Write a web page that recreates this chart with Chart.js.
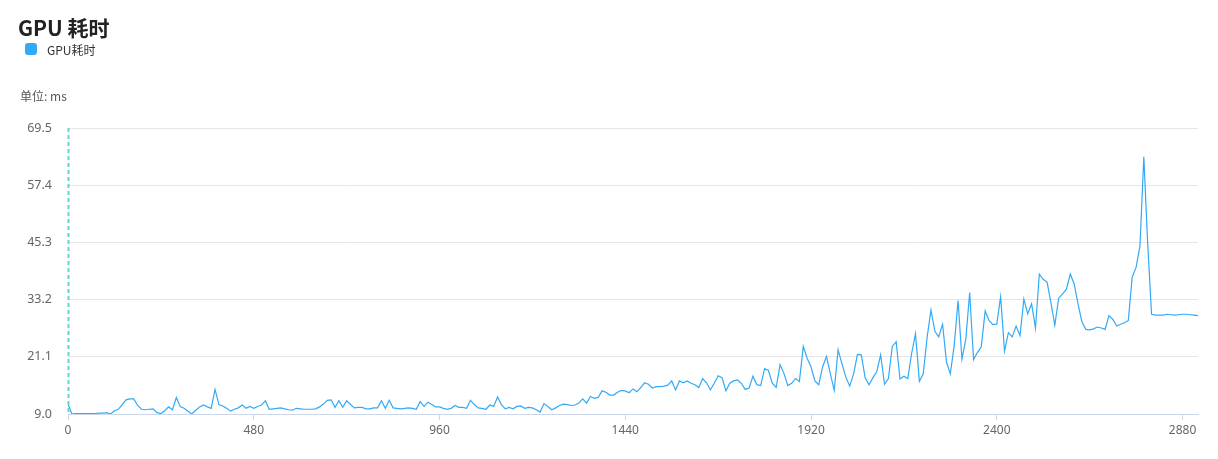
<!DOCTYPE html>
<html>
<head>
<meta charset="utf-8">
<script src="https://cdn.jsdelivr.net/npm/chart.js@4/dist/chart.umd.min.js"></script>
<style>
  html, body { margin:0; padding:0; background:#fff; width:1218px; height:459px; overflow:hidden;
    font-family:"Noto Sans","Noto Sans CJK SC",sans-serif; }
  #wrap { position:relative; width:1218px; height:459px; }
  #chart { position:absolute; left:0; top:0; }
  #title { position:absolute; left:18px; top:11px; font-size:21px; font-weight:bold; color:#222; line-height:32px; white-space:nowrap; font-family:"Noto Sans CJK SC","Noto Sans",sans-serif; }
  #legend { position:absolute; left:25px; top:40px; height:18px; display:flex; align-items:center; font-size:12px; color:#333; font-family:"Noto Sans CJK SC","Noto Sans",sans-serif; }
  #legend .sw { width:12px; height:12px; border-radius:3px; background:#33aaf6; margin-right:10px; }
  #unit { position:absolute; left:20px; top:87px; font-size:12px; color:#555; line-height:18px; font-family:"Noto Sans CJK SC","Noto Sans",sans-serif; }
</style>
</head>
<body>
<div id="wrap">
  <canvas id="chart" width="1218" height="459"></canvas>
  <div id="title">GPU 耗时</div>
  <div id="legend"><span class="sw"></span><span>GPU耗时</span></div>
  <div id="unit">单位: ms</div>
</div>
<script>
const seriesName = "GPU耗时";

const sampleTimes = [
  0,10,20,30,40,50,60,70,80,90,100,110,120,130,140,150,160,170,180,190,
  200,210,220,230,240,250,260,270,280,290,300,310,320,330,340,350,360,370,380,390,
  400,410,420,430,440,450,460,470,480,490,500,510,520,530,540,550,560,570,580,590,
  600,610,620,630,640,650,660,670,680,690,700,710,720,730,740,750,760,770,780,790,
  800,810,820,830,840,850,860,870,880,890,900,910,920,930,940,950,960,970,980,990,
  1000,1010,1020,1030,1040,1050,1060,1070,1080,1090,1100,1110,1120,1130,1140,1150,1160,1170,1180,1190,
  1200,1210,1220,1230,1240,1250,1260,1270,1280,1290,1300,1310,1320,1330,1340,1350,1360,1370,1380,1390,
  1400,1410,1420,1430,1440,1450,1460,1470,1480,1490,1500,1510,1520,1530,1540,1550,1560,1570,1580,1590,
  1600,1610,1620,1630,1640,1650,1660,1670,1680,1690,1700,1710,1720,1730,1740,1750,1760,1770,1780,1790,
  1800,1810,1820,1830,1840,1850,1860,1870,1880,1890,1900,1910,1920,1930,1940,1950,1960,1970,1980,1990,
  2000,2010,2020,2030,2040,2050,2060,2070,2080,2090,2100,2110,2120,2130,2140,2150,2160,2170,2180,2190,
  2200,2210,2220,2230,2240,2250,2260,2270,2280,2290,2300,2310,2320,2330,2340,2350,2360,2370,2380,2390,
  2400,2410,2420,2430,2440,2450,2460,2470,2480,2490,2500,2510,2520,2530,2540,2550,2560,2570,2580,2590,
  2600,2610,2620,2630,2640,2650,2660,2670,2680,2690,2700,2710,2720,2730,2740,2750,2760,2770,2780,2790,
  2800,2810,2820,2830,2840,2850,2860,2870,2880,2890,2900,2910,2920
];

const gpuMs = [
  11.1, 9.0, 9.1, 9.1, 9.1, 9.1, 9.1, 9.1, 9.2, 9.2,
  9.3, 9.0, 9.7, 10.0, 11.0, 12.0, 12.2, 12.2, 10.8, 10.0,
  9.9, 10.0, 10.1, 9.3, 9.1, 9.7, 10.5, 9.9, 12.5, 10.6,
  10.2, 9.6, 9.0, 9.8, 10.5, 10.9, 10.5, 10.2, 14.2, 11.0,
  10.7, 10.2, 9.6, 10.0, 10.3, 10.9, 10.2, 10.6, 10.2, 10.6,
  10.9, 11.8, 10.0, 10.1, 10.2, 10.3, 10.1, 9.9, 9.8, 10.2,
  10.1, 10.0, 10.0, 10.0, 10.1, 10.5, 11.1, 11.9, 12.0, 10.4,
  11.8, 10.4, 11.8, 11.0, 10.3, 10.4, 10.4, 10.1, 10.1, 10.3,
  10.3, 11.8, 10.2, 11.9, 10.3, 10.2, 10.1, 10.2, 10.3, 10.2,
  10.0, 11.6, 10.6, 11.5, 11.0, 10.5, 10.5, 10.2, 10.0, 10.2,
  10.8, 10.4, 10.4, 10.2, 11.9, 11.0, 10.3, 10.2, 10.0, 10.9,
  10.6, 12.6, 11.0, 10.1, 10.4, 10.1, 10.6, 10.7, 10.2, 10.4,
  10.3, 9.9, 9.4, 11.2, 10.6, 9.9, 10.3, 10.8, 11.1, 11.0,
  10.8, 10.9, 11.3, 12.2, 11.3, 12.7, 12.3, 12.5, 13.9, 13.6,
  13.0, 13.0, 13.6, 14.0, 13.9, 13.5, 14.3, 13.7, 14.6, 15.6,
  15.3, 14.5, 14.8, 14.8, 14.9, 15.1, 16.0, 14.1, 16.0, 15.6,
  16.0, 15.5, 15.2, 14.6, 16.5, 15.6, 14.1, 15.5, 17.1, 16.7,
  13.9, 15.5, 16.0, 16.2, 15.5, 14.2, 14.5, 17.0, 15.2, 15.0,
  18.6, 18.2, 15.5, 14.6, 19.4, 17.6, 15.0, 15.5, 16.5, 15.9,
  23.3, 20.8, 19.0, 16.0, 15.2, 19.0, 21.2, 17.5, 14.0, 22.6,
  19.6, 16.8, 14.9, 17.5, 21.6, 21.5, 16.6, 15.2, 16.7, 18.0,
  21.5, 15.3, 16.5, 23.3, 24.3, 16.4, 17.0, 16.5, 21.8, 26.0,
  15.9, 17.5, 25.2, 31.0, 26.5, 25.3, 28.0, 20.0, 17.5, 23.5,
  33.0, 20.6, 24.8, 34.7, 20.5, 22.0, 23.2, 30.8, 28.8, 27.9,
  28.0, 33.8, 22.3, 26.2, 25.3, 27.6, 25.6, 33.3, 30.2, 32.3,
  27.2, 38.6, 37.5, 36.9, 32.5, 27.8, 33.5, 34.4, 35.4, 38.6,
  36.5, 32.3, 28.5, 26.9, 26.8, 27.0, 27.4, 27.2, 26.9, 29.8,
  29.0, 27.6, 28.0, 28.3, 28.8, 38.0, 40.0, 44.5, 63.4, 45.0,
  30.1, 29.9, 29.9, 29.9, 30.1, 30.0, 29.9, 30.0, 30.1, 30.1,
  30.0, 29.9, 29.8
];

const xTickValues = [0, 480, 960, 1440, 1920, 2400, 2880];
const yTickValues = [9.0, 21.1, 33.2, 45.3, 57.4, 69.5];

const points = sampleTimes.map((t, i) => ({ x: t, y: gpuMs[i] }));

const fontFamily = '"Noto Sans", "Noto Sans CJK SC", sans-serif';

// dashed teal marker line at the start of the x axis
const startMarker = {
  id: 'startMarker',
  afterDatasetsDraw(chart) {
    const { ctx, chartArea, scales } = chart;
    const x = Math.round(scales.x.getPixelForValue(xTickValues[0])) + 0.5;
    ctx.save();
    ctx.strokeStyle = '#5fd8cc';
    ctx.lineWidth = 2;
    ctx.setLineDash([4, 3]);
    ctx.beginPath();
    ctx.moveTo(x, chartArea.top);
    ctx.lineTo(x, chartArea.bottom);
    ctx.stroke();
    ctx.restore();
  }
};

new Chart(document.getElementById('chart'), {
  type: 'line',
  data: {
    datasets: [{
      label: seriesName,
      data: points,
      borderColor: '#33aaf6',
      backgroundColor: '#33aaf6',
      borderWidth: 1.2,
      pointRadius: 0,
      pointHoverRadius: 0,
      tension: 0,
      fill: false
    }]
  },
  plugins: [startMarker],
  options: {
    responsive: false,
    animation: false,
    layout: { padding: { top: 128, right: 20, bottom: 0, left: 0 } },
    plugins: { legend: { display: false }, title: { display: false }, tooltip: { enabled: false } },
    scales: {
      x: {
        type: 'linear',
        min: 0,
        max: 2920,
        afterBuildTicks: (s) => { s.ticks = xTickValues.map(v => ({ value: v })); },
        afterFit: (s) => { s.height = 45; },
        grid: { display: true, drawOnChartArea: false, drawTicks: true, tickLength: 6, color: '#ccd6eb' },
        border: { display: true, color: '#ccd6eb', width: 1 },
        ticks: {
          autoSkip: false, maxRotation: 0, padding: 3,
          color: '#666', font: { family: fontFamily, size: 12 },
          callback: (v) => String(v)
        }
      },
      y: {
        type: 'linear',
        min: 9.0,
        max: 69.5,
        afterBuildTicks: (s) => { s.ticks = yTickValues.map(v => ({ value: v })); },
        afterFit: (s) => { s.width = 68; },
        grid: { display: true, drawTicks: false, color: '#e6e6e6', lineWidth: 1 },
        border: { display: false },
        ticks: {
          padding: 16, color: '#666', font: { family: fontFamily, size: 12.5 },
          callback: (v) => Number(v).toFixed(1)
        }
      }
    }
  }
});
</script>
</body>
</html>
